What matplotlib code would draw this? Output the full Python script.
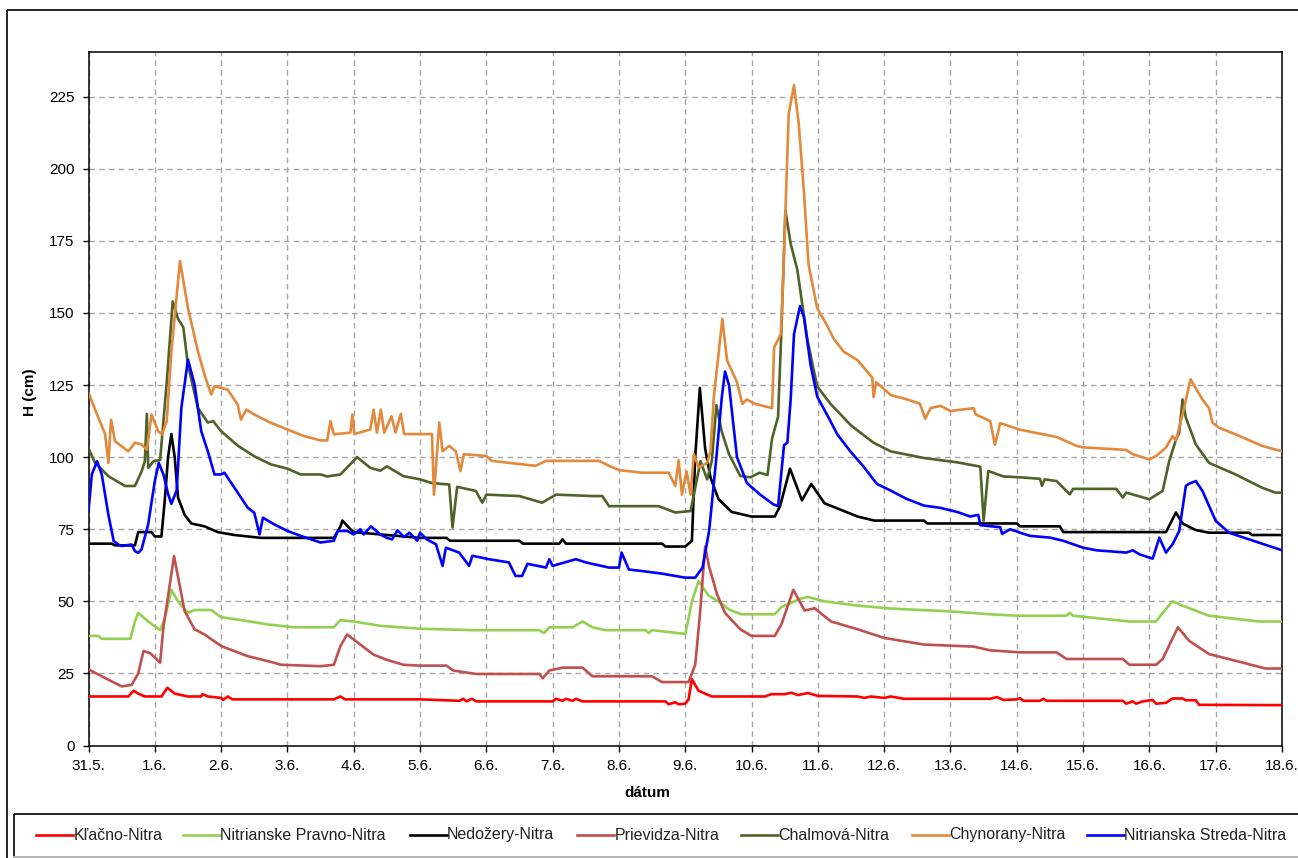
import matplotlib
matplotlib.use("Agg")
import matplotlib.pyplot as plt
from matplotlib.patches import Rectangle
from matplotlib.lines import Line2D

plt.rcParams['font.family'] = ['Liberation Sans', 'DejaVu Sans']

# ---------------- data (x = days since 31.5. 00:00) ----------------
tick_labels = ["31.5.", "1.6.", "2.6.", "3.6.", "4.6.", "5.6.", "6.6.", "7.6.", "8.6.", "9.6.",
               "10.6.", "11.6.", "12.6.", "13.6.", "14.6.", "15.6.", "16.6.", "17.6.", "18.6."]
y_ticks = [0, 25, 50, 75, 100, 125, 150, 175, 200, 225]

names = ["Kľačno-Nitra", "Nitrianske Pravno-Nitra", "Nedožery-Nitra", "Prievidza-Nitra",
         "Chalmová-Nitra", "Chynorany-Nitra", "Nitrianska Streda-Nitra"]

klacno_x = [0, 0.6, 0.68, 0.75, 0.85, 1.1, 1.19, 1.3, 1.4, 1.5, 1.7, 1.72, 1.8, 2.0, 2.03, 2.1, 2.17,
            3.7, 3.8, 3.87, 5.0, 5.6, 5.65, 5.7, 5.78, 5.85, 7.0, 7.05, 7.15, 7.2, 7.3, 7.35, 7.45,
            8.7, 8.75, 8.85, 8.9, 9.0, 9.05, 9.1, 9.2, 9.3, 9.4, 10.2, 10.3, 10.5, 10.6, 10.7, 10.85,
            11.0, 11.6, 11.7, 11.8, 12.0, 12.1, 12.3, 13.6, 13.7, 13.8, 14.0, 14.05, 14.1, 14.35,
            14.4, 14.45, 15.6, 15.65, 15.75, 15.8, 15.9, 16.05, 16.1, 16.25, 16.35, 16.5, 16.55,
            16.7, 16.75, 18]
klacno_y = [17, 17, 19, 18, 17, 17, 20, 18, 17.5, 17, 17, 17.8, 17, 16.5, 15.8, 17, 16,
            16, 17, 16, 16, 15.5, 16.2, 15.3, 16.2, 15.3, 15.3, 16.2, 15.5, 16.2, 15.5, 16.2, 15.3,
            15.3, 14.3, 15, 14.3, 14.5, 16, 23, 19, 18, 17, 17, 17.8, 17.8, 18.3, 17.5, 18.2,
            17.2, 17, 16.5, 17, 16.5, 17, 16.2, 16.2, 16.8, 15.8, 16, 16.4, 15.5, 15.5,
            16.2, 15.5, 15.5, 14.5, 15.3, 14.5, 15.3, 15.8, 14.5, 14.8, 16.3, 16.3, 15.7,
            15.7, 14.1, 14]

pravno_x = [0, 0.15, 0.2, 0.63, 0.7, 0.75, 0.9, 1.08, 1.15, 1.25, 1.35, 1.5, 1.6, 1.85, 2.0, 2.3,
            2.7, 3.1, 3.7, 3.8, 4.0, 4.4, 5.0, 5.8, 6.8, 6.87, 6.95, 7.3, 7.45, 7.6, 7.8, 8.4,
            8.45, 8.5, 9.0, 9.05, 9.1, 9.2, 9.35, 9.5, 9.67, 9.85, 10.35, 10.45, 10.75, 10.85,
            11.1, 11.6, 12.1, 13.0, 13.6, 14.0, 14.75, 14.8, 14.85, 15.7, 16.1, 16.2, 16.35,
            16.5, 16.9, 17.65, 18]
pravno_y = [38, 38, 37, 37, 43, 46, 43, 40, 44, 54, 50, 46, 47, 47, 44.5, 43.5,
            42, 41, 41, 43.5, 43, 41.5, 40.5, 40, 40, 39, 41, 41, 43, 41, 40, 40,
            39, 40, 38.7, 44, 50, 57, 52, 50, 47, 45.5, 45.5, 48, 51, 51.5,
            50, 48.5, 47.5, 46.5, 45.5, 45, 45, 46, 45, 43, 43, 46, 50,
            48.5, 45, 43, 43]

nedozery_x = [0, 0.35, 0.4, 0.7, 0.75, 0.95, 1.0, 1.1, 1.15, 1.2, 1.25, 1.3, 1.35, 1.45, 1.55, 1.75,
              1.95, 2.2, 2.6, 3.7, 3.8, 3.83, 3.95, 4.0, 5.0, 5.4, 5.45, 6.5, 6.55, 7.1, 7.15, 7.2,
              8.65, 8.7, 9.0, 9.1, 9.15, 9.22, 9.3, 9.38, 9.5, 9.7, 10.0, 10.35, 10.43, 10.58,
              10.76, 10.9, 11.1, 11.6, 11.85, 12.6, 12.65, 14.0, 14.05, 14.65, 14.7, 16.25, 16.4,
              16.5, 16.7, 16.9, 17.5, 17.55, 18]
nedozery_y = [70, 70, 69.4, 69.4, 74, 74, 72.5, 72.5, 85, 100, 108, 100, 86, 80, 77, 76,
              74, 73, 72, 72, 76, 78, 75, 74, 72, 72, 71, 71, 70, 70, 71.5, 70,
              70, 69, 69, 71, 100, 124, 103, 93, 85.5, 81, 79.4, 79.4, 83, 96,
              85, 90.7, 84, 79.4, 78, 78, 77, 77, 76, 76, 74, 74, 80.8,
              77, 74.7, 73.8, 73.8, 73, 73]

prievidza_x = [0, 0.25, 0.5, 0.65, 0.75, 0.83, 0.93, 1.0, 1.08, 1.13, 1.29, 1.45, 1.6, 1.75, 2.0,
               2.4, 2.8, 2.9, 3.5, 3.7, 3.8, 3.9, 4.1, 4.3, 4.5, 4.75, 5.0, 5.4, 5.5, 5.85, 6.8,
               6.85, 6.95, 7.15, 7.45, 7.6, 8.5, 8.65, 9.05, 9.15, 9.22, 9.3, 9.36, 9.48, 9.6,
               9.83, 10.0, 10.35, 10.45, 10.63, 10.8, 10.95, 11.2, 11.6, 12.0, 12.6, 13.35, 13.6,
               14.05, 14.6, 14.75, 15.6, 15.7, 16.1, 16.2, 16.43, 16.6, 16.9, 17.4, 17.75, 18]
prievidza_y = [26.4, 23.4, 20.5, 21, 25, 32.8, 32, 30.5, 28.7, 41, 65.7, 46.6, 40.3, 38.5, 34.5,
               31, 28.7, 28, 27.5, 28, 34.5, 38.5, 35, 31.5, 29.7, 28, 27.7, 27.7, 26, 24.8, 24.8,
               23.3, 26, 27, 27, 24, 24, 22, 22, 28, 45, 69, 62, 52.4, 46,
               40.3, 38, 38, 42, 54, 46.8, 47.6, 43, 40.3, 37.3, 35, 34.3, 33,
               32.3, 32.3, 30, 30, 28, 28, 30, 41, 36.3, 31.7, 28.8, 26.7, 26.7]

chalmova_x = [0, 0.1, 0.3, 0.55, 0.7, 0.8, 0.85, 0.88, 0.9, 0.98, 1.08, 1.18, 1.27, 1.35, 1.43, 1.5,
              1.65, 1.8, 1.88, 2.0, 2.25, 2.5, 2.75, 3.0, 3.2, 3.5, 3.6, 3.8, 4.05, 4.25, 4.4, 4.5,
              4.75, 5.0, 5.18, 5.44, 5.49, 5.56, 5.84, 5.94, 6.0, 6.5, 6.84, 7.05, 7.6, 7.75, 7.85,
              8.6, 8.85, 9.08, 9.15, 9.23, 9.33, 9.4, 9.47, 9.55, 9.66, 9.83, 9.98, 10.12, 10.24,
              10.31, 10.4, 10.45, 10.51, 10.59, 10.69, 10.84, 10.99, 11.19, 11.5, 11.84, 12.1,
              12.6, 13.1, 13.45, 13.5, 13.57, 13.8, 14.05, 14.35, 14.38, 14.42, 14.6, 14.8, 14.85,
              15.5, 15.6, 15.65, 16.0, 16.2, 16.3, 16.4, 16.45, 16.5, 16.55, 16.7, 16.9, 17.3,
              17.5, 17.7, 17.9, 18]
chalmova_y = [103, 98, 93.4, 90, 90, 95, 98.6, 115, 96.3, 98.6, 99, 126, 154, 148, 145, 132,
              117, 112, 112.5, 109, 104, 100.3, 97.5, 96, 94, 94, 93.3, 94, 100, 96.3, 95.3, 96.8,
              93.4, 92.3, 91, 90.5, 75.6, 89.7, 88.3, 84.2, 87, 86.5, 84.2, 87, 86.5, 86.5, 83,
              83, 80.8, 81.3, 89.3, 98.6, 92.3, 98.6, 118, 108.9, 101, 93.5, 93, 94.6, 93.8,
              106.5, 114, 144, 185.5, 174, 165, 141, 124.5, 118.5, 111, 105, 102,
              99.7, 98.2, 96.7, 78, 95.2, 93.3, 93, 92.5, 90, 92.3, 91.7, 87.1, 89,
              89, 86, 87.7, 85.4, 88.3, 98.7, 106, 108.5, 120, 113.7, 104.4, 98, 94,
              91.7, 89.4, 87.7, 87.7]

chynorany_x = [0, 0.15, 0.25, 0.3, 0.34, 0.4, 0.5, 0.6, 0.7, 0.8, 0.88, 0.95, 1.05, 1.11, 1.18,
               1.25, 1.38, 1.5, 1.65, 1.75, 1.85, 1.9, 2.1, 2.25, 2.3, 2.38, 2.5, 2.75, 3.0, 3.25,
               3.5, 3.6, 3.65, 3.7, 3.95, 3.98, 4.01, 4.25, 4.3, 4.35, 4.41, 4.46, 4.57, 4.63,
               4.71, 4.76, 5.0, 5.18, 5.21, 5.29, 5.34, 5.44, 5.54, 5.61, 5.66, 6.0, 6.08, 6.74,
               6.9, 7.7, 7.85, 8.0, 8.35, 8.75, 8.85, 8.9, 8.95, 9.02, 9.08, 9.13, 9.2, 9.33,
               9.38, 9.43, 9.56, 9.63, 9.78, 9.86, 9.93, 10.05, 10.31, 10.34, 10.44, 10.48,
               10.56, 10.64, 10.71, 10.79, 10.86, 10.99, 11.14, 11.24, 11.39, 11.6, 11.82, 11.84,
               11.88, 12.1, 12.35, 12.54, 12.62, 12.7, 12.85, 13.0, 13.35, 13.38, 13.6, 13.67,
               13.75, 14.05, 14.4, 14.6, 14.9, 15.0, 15.65, 15.75, 16.0, 16.1, 16.25, 16.35,
               16.4, 16.5, 16.62, 16.8, 16.9, 16.95, 17.05, 17.3, 17.7, 18]
chynorany_y = [122.3, 113.6, 108, 98, 113, 105.5, 103.8, 102, 105, 104.4, 102.6, 114.8, 109, 107.9,
               112.5, 136.7, 168, 151.7, 136.7, 128.6, 121.7, 124.6, 123.4, 118.2, 113, 116.5,
               114.8, 111.9, 109.6, 107.3, 105.8, 105.8, 112.5, 107.9, 108.5, 114.8, 108, 109.6,
               116.5, 108.5, 116.5, 108.5, 114.2, 108.5, 115, 108, 108, 108, 87, 112, 102,
               103.9, 102, 95.2, 101, 100.4, 98.7, 97, 98.7, 98.7, 97, 95.5, 94.6, 94.6, 90,
               98.9, 87, 95, 87, 101, 96.5, 98, 102, 120.5, 148, 133.6, 126, 118.5, 120, 118.5,
               117, 138, 142.6, 163.6, 219, 229, 216, 192, 166.7, 151.7, 145.6, 141, 136.6,
               133.6, 127.6, 120.8, 126, 121.5, 120, 118.5, 113.3, 117, 117.8, 116, 117, 114.8,
               112.5, 104.3, 111.8, 109.5, 107.9, 107, 103.9, 103.4, 102.5, 101, 99.2, 100.4,
               103.3, 107.3, 105.8, 114.8, 127, 120, 117, 112, 110.2, 107.9, 103.9, 102]

streda_x = [0, 0.05, 0.13, 0.2, 0.3, 0.38, 0.45, 0.5, 0.65, 0.7, 0.75, 0.8, 0.9, 1.0, 1.06, 1.13,
            1.2, 1.25, 1.33, 1.4, 1.5, 1.6, 1.7, 1.8, 1.9, 2.0, 2.05, 2.2, 2.4, 2.5, 2.58, 2.63,
            2.8, 3.0, 3.25, 3.5, 3.7, 3.76, 3.9, 4.0, 4.1, 4.15, 4.26, 4.4, 4.5, 4.58, 4.66,
            4.76, 4.84, 4.96, 5.0, 5.1, 5.24, 5.34, 5.39, 5.59, 5.74, 5.79, 6.04, 6.34, 6.44,
            6.54, 6.62, 6.9, 6.95, 7.0, 7.35, 7.5, 7.85, 8.0, 8.04, 8.15, 8.35, 8.65, 8.85, 9.0,
            9.15, 9.26, 9.36, 9.47, 9.55, 9.6, 9.66, 9.78, 9.93, 10.13, 10.33, 10.4, 10.49,
            10.54, 10.59, 10.64, 10.73, 10.79, 10.89, 10.99, 11.19, 11.29, 11.49, 11.69, 11.89,
            12.09, 12.34, 12.6, 12.85, 13.1, 13.3, 13.42, 13.45, 13.75, 13.78, 13.9, 14.05,
            14.2, 14.5, 14.7, 15.0, 15.2, 15.65, 15.75, 15.85, 16.05, 16.15, 16.25, 16.35,
            16.45, 16.55, 16.6, 16.7, 16.8, 17.0, 17.2, 17.5, 17.8, 18]
streda_y = [81.3, 94, 98.6, 94, 80, 70.9, 69.7, 69.2, 69.7, 67.4, 66.8, 68, 76.7, 91.7, 98, 94,
            87.3, 83.8, 88.5, 117, 133.8, 125.2, 109, 102, 94, 94, 94.6, 89.4, 82.5, 80.7, 73.2, 79,
            76.7, 74.4, 72.3, 70.4, 71, 74.4, 74.4, 73.2, 75, 73.2, 76, 73.2, 72, 71.5, 74.6,
            72.3, 73.8, 71, 73.8, 71.5, 69.8, 62.3, 68.6, 66.9, 62.3, 65.8, 64.6, 63.5, 58.8,
            58.8, 63, 61.7, 64.6, 62.3, 64.6, 63.5, 61.7, 61.7, 66.9, 61, 60.5, 59.6, 58.8, 58.2,
            58.2, 61.7, 74.4, 100, 120.5, 129.7, 125, 100, 91, 87, 83.6, 83, 104.2,
            105, 120, 142.6, 152.4, 148.6, 132, 121, 112.5, 108, 102, 96.7, 90.7,
            88.5, 85.5, 83.2, 82.4, 81, 79.4, 80, 76.4, 75.7, 73.4, 75, 73.8,
            72.7, 72.1, 71, 68.6, 67.7, 66.9, 67.7, 66.3, 64.8, 72.1, 66.9, 69.8,
            74.4, 90, 90.8, 91.7, 88.3, 77.9, 73.8, 71.5, 69.2, 67.7]

series_x = [klacno_x, pravno_x, nedozery_x, prievidza_x, chalmova_x, chynorany_x, streda_x]
series_y = [klacno_y, pravno_y, nedozery_y, prievidza_y, chalmova_y, chynorany_y, streda_y]
colors = ["#FF0000", "#92D050", "#000000", "#C0504D", "#4F6228", "#E2893B", "#0000FF"]

# ---------------- figure ----------------
W, H = 1298, 858
fig = plt.figure(figsize=(W / 100, H / 100), dpi=100)
fig.patch.set_facecolor("white")

L, R, T, B = 88.5, 1282, 52, 745.5
ax = fig.add_axes([L / W, 1 - B / H, (R - L) / W, (B - T) / H])

for xs, ys, c, n in zip(series_x, series_y, colors, names):
    ax.plot(xs, ys, color=c, lw=1.9, label=n, solid_joinstyle="round", zorder=3)

ax.set_xlim(0, 18)
ax.set_ylim(0, 240.5)
ax.set_xticks(range(len(tick_labels)))
ax.set_xticklabels(tick_labels)
ax.set_yticks(y_ticks)
ax.grid(True, color="#A6A6A6", linestyle=(0, (4, 3)), linewidth=1.0, zorder=0)
ax.tick_params(axis="both", direction="out", length=4, width=1, color="black",
               labelsize=11, pad=6)
for sp in ax.spines.values():
    sp.set_linewidth(1.1)
    sp.set_color("black")

fig.text(30 / W, 1 - 392 / H, "H (cm)", rotation=90, ha="center", va="center",
         fontsize=11, fontweight="bold")
fig.text(647 / W, 1 - 793 / H, "dátum", ha="center", va="center",
         fontsize=11, fontweight="bold")

# ---------------- overlay: chart border + legend ----------------
ov = fig.add_axes([0, 0, 1, 1], zorder=5)
ov.set_xlim(0, W)
ov.set_ylim(H, 0)
ov.axis("off")
ov.patch.set_alpha(0)
ov.add_patch(Rectangle((7, 10), 1400, 900, fill=False, edgecolor="black", lw=1.2))
ov.add_patch(Rectangle((14, 814), 1400, 43, fill=False, edgecolor="black", lw=1.2))
ov.plot([14, 1298], [856.5, 856.5], color="#D0D0D0", lw=1.2)

leg_starts = [36, 183, 409.5, 577, 741, 912, 1087]
for x0, c, n in zip(leg_starts, colors, names):
    ov.add_line(Line2D([x0, x0 + 37], [835, 835], color=c, lw=1.9))
    ov.text(x0 + 37.5, 839.5, n, ha="left", va="baseline", fontsize=11.5, color="#222222")

fig.savefig("out.png", dpi=100, facecolor="white")
